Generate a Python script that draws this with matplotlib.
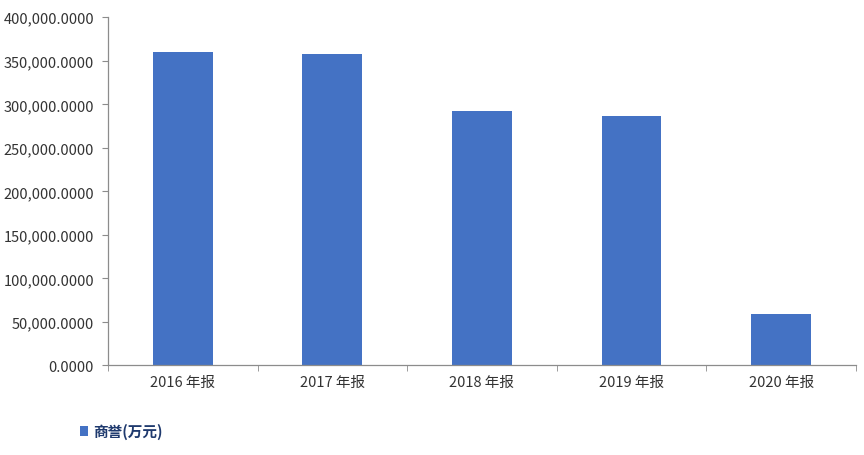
import matplotlib
matplotlib.use("Agg")
import matplotlib.pyplot as plt
from matplotlib.patches import Patch
from matplotlib.ticker import FuncFormatter, MultipleLocator, FixedLocator

plt.rcParams['font.family'] = ['Noto Sans CJK SC', 'DejaVu Sans']

categories = ["2016 年报", "2017 年报", "2018 年报", "2019 年报", "2020 年报"]
values = [360000, 357800, 292000, 286300, 59200]
series_name = "商誉(万元)"

bar_color = "#4472C4"
axis_color = "#8C8C8C"
text_color = "#333333"

fig = plt.figure(figsize=(8.64, 4.56), dpi=100)
ax = fig.add_axes([0.125, 0.1963, 0.8657, 0.7636])

x = list(range(len(categories)))
ax.bar(x, values, width=0.4, color=bar_color, zorder=2)

ax.set_xlim(-0.5, len(categories) - 0.5)
ax.set_ylim(0, 400000)
ax.yaxis.set_major_locator(MultipleLocator(50000))
ax.yaxis.set_major_formatter(FuncFormatter(lambda v, p: f"{v:,.4f}"))

ax.set_xticks(x)
ax.set_xticklabels(categories)
ax.xaxis.set_minor_locator(FixedLocator([i - 0.5 for i in range(len(categories) + 1)]))
ax.tick_params(axis='x', which='major', length=0, pad=7, labelsize=10.5, labelcolor=text_color)
ax.tick_params(axis='x', which='minor', length=4, color=axis_color, direction='out')
ax.tick_params(axis='y', which='major', length=4, color=axis_color, direction='out',
               labelsize=10.5, labelcolor=text_color, pad=6)

for s in ['top', 'right']:
    ax.spines[s].set_visible(False)
for s in ['left', 'bottom']:
    ax.spines[s].set_color(axis_color)
    ax.spines[s].set_linewidth(0.9)

handle = Patch(facecolor=bar_color, edgecolor='none', label=series_name)
leg = fig.legend(handles=[handle], loc='center left', bbox_to_anchor=(0.077, 0.052),
                 frameon=False, handlelength=0.6, handleheight=0.6, handletextpad=0.3,
                 prop={'size': 10.5, 'weight': 'bold'})
for t in leg.get_texts():
    t.set_color("#1F3A6E")

fig.savefig("out.png", dpi=100)
